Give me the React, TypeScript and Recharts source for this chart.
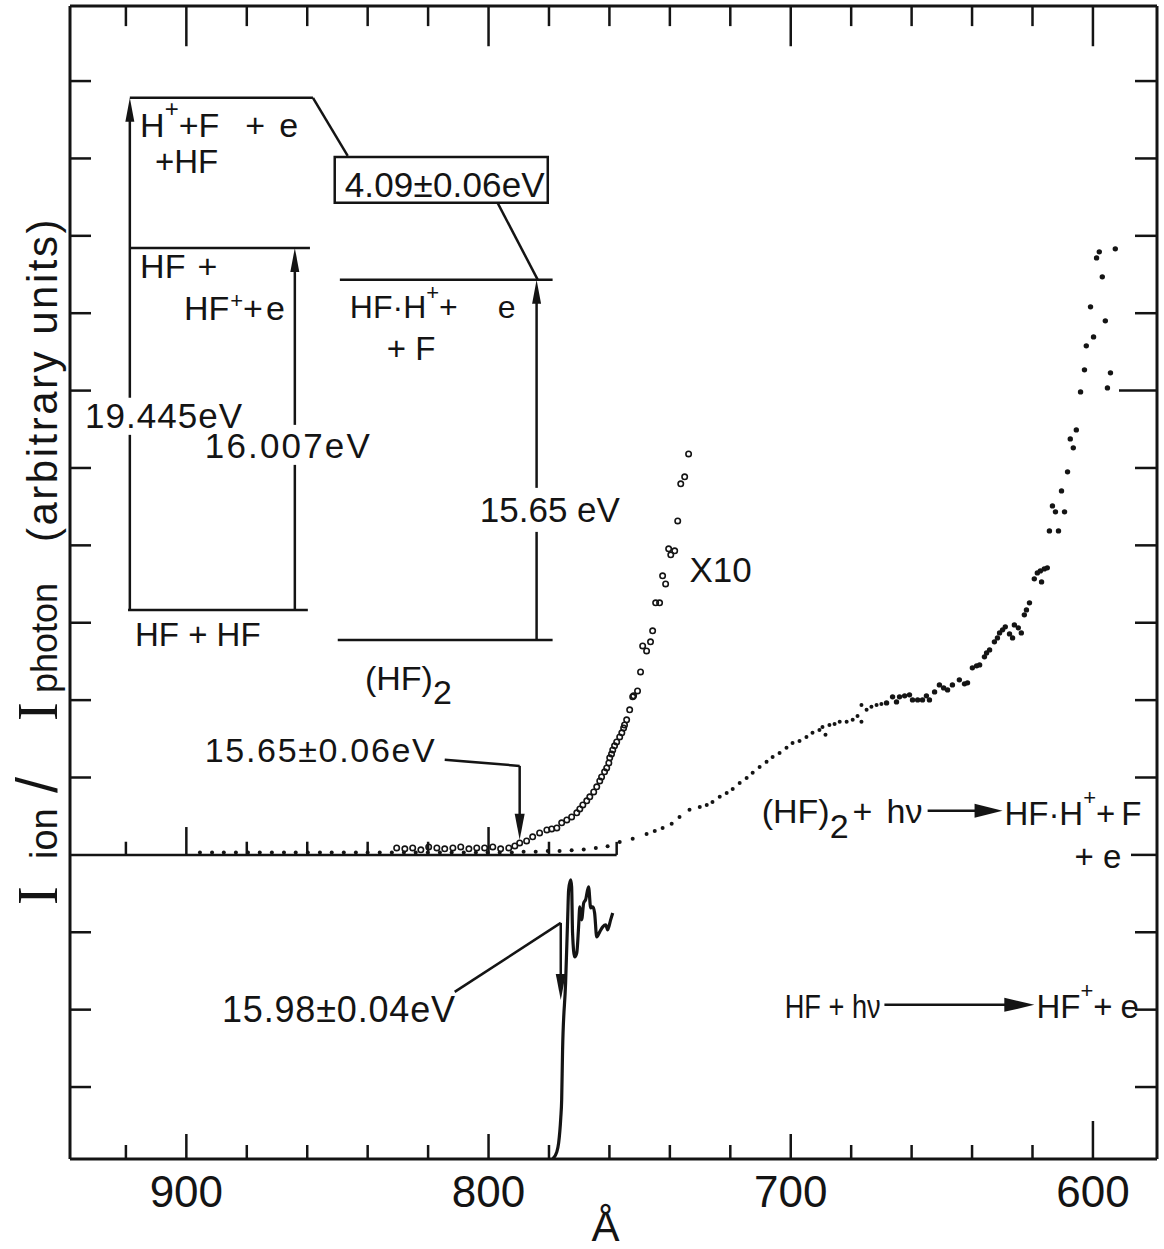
import React from "react";
import {
  ComposedChart,
  Scatter,
  Line,
  XAxis,
  YAxis,
  ReferenceLine,
  ReferenceDot,
  ReferenceArea,
} from "recharts";

const INK = "#141414";
const SANS = "'Liberation Sans', Arial, sans-serif";
const SERIF = "'Liberation Serif', 'Times New Roman', serif";

// axes: wavelength in Å (reversed), signal in tick units
const wlDomain = [578.8, 938.5];
const sigDomain = [-3.93, 10.97];
const wlTicks = [600, 620, 640, 660, 680, 700, 720, 740, 760, 780, 800, 820, 840, 860, 880, 900, 920];
const sigTicks = [-3, -2, -1, 0, 1, 2, 3, 4, 5, 6, 7, 8, 9, 10];
const zeroTicks = [780, 800, 820, 840, 860, 880, 900, 920];

// (HF)2 -> HF·H+ , x10 trace (open circles)
const x10Wl = [
  830.4, 827.7, 825.1, 822.4, 819.8, 817.1, 814.5, 811.8, 809.2, 806.5, 803.9, 801.3, 798.6, 796.0, 793.3, 791.3,
  789.7, 787.4, 785.4, 783.1, 780.7, 779.1, 777.4, 775.8, 774.1, 772.5, 770.8, 769.8, 768.8, 767.5, 766.5, 765.2,
  764.2, 763.2, 762.6, 761.6, 760.9, 760.2, 759.9, 759.3, 758.9, 758.3, 757.6, 756.6, 755.9, 755.3, 755.0, 754.3,
  753.3, 752.3, 752.0, 750.7, 749.7, 749.0, 747.7, 746.4, 745.7, 744.7, 743.4, 742.4, 741.4, 740.4, 739.7, 738.4,
  737.4, 736.4, 735.1, 733.8,
];
const x10Sig = [
  0.09, 0.078, 0.09, 0.065, 0.103, 0.09, 0.078, 0.09, 0.103, 0.078, 0.09, 0.09, 0.103, 0.078, 0.09, 0.116,
  0.155, 0.181, 0.233, 0.284, 0.323, 0.336, 0.349, 0.414, 0.452, 0.491, 0.543, 0.594, 0.646, 0.698, 0.75, 0.814,
  0.879, 0.956, 1.008, 1.073, 1.124, 1.189, 1.254, 1.305, 1.357, 1.409, 1.46, 1.525, 1.577, 1.641, 1.68, 1.745,
  1.874, 2.042, 2.055, 2.119, 2.365, 2.701, 2.636, 2.753, 2.895, 3.257, 3.257, 3.606, 3.502, 3.955, 3.877, 3.929,
  4.316, 4.795, 4.885, 5.182,
];

// (HF)2 -> HF·H+ , x1 trace (small dots)
const dimerWl = [
  895.5, 891.5, 887.6, 883.6, 879.6, 875.7, 871.7, 867.7, 863.8, 859.8, 855.8, 851.9, 847.9, 843.9, 840.0, 836.0,
  832.0, 828.0, 824.1, 820.1, 816.1, 812.2, 808.2, 804.2, 800.3, 796.3, 792.3, 788.4, 784.4, 780.4, 776.5, 772.5,
  768.5, 764.5, 760.6,
  756.6, 752.3, 747.7, 745.0, 742.4, 739.4, 736.8, 733.5, 730.1, 727.8, 725.9, 723.5, 721.2, 719.2, 716.9, 714.6,
  712.6, 710.3, 708.0, 706.0, 703.7, 701.4, 699.4, 697.1, 694.8, 692.8, 690.5, 689.5, 688.5, 687.2, 685.5, 683.8,
  681.5, 679.5, 677.9, 676.6, 676.6, 674.9, 673.3, 671.6, 670.0,
];
const dimerSig = [
  0.03, 0.03, 0.03, 0.03, 0.03, 0.03, 0.03, 0.03, 0.03, 0.03, 0.03, 0.03, 0.03, 0.03, 0.03, 0.03,
  0.03, 0.03, 0.03, 0.03, 0.03, 0.03, 0.03, 0.03, 0.03, 0.03, 0.03, 0.04, 0.04, 0.05, 0.05, 0.06,
  0.07, 0.09, 0.11,
  0.168, 0.207, 0.271, 0.31, 0.349, 0.401, 0.491, 0.582, 0.62, 0.646, 0.685, 0.75, 0.801, 0.853, 0.93, 0.995,
  1.06, 1.137, 1.202, 1.266, 1.318, 1.383, 1.447, 1.473, 1.525, 1.577, 1.615, 1.654, 1.551, 1.68, 1.693, 1.719,
  1.719, 1.745, 1.796, 1.938, 1.719, 1.874, 1.913, 1.938, 1.951,
];

// (HF)2 -> HF·H+ , x1 trace, short-wavelength end (larger dots)
const dimerHiWl = [
  668.3, 666.3, 665.0, 664.0, 662.3, 660.7, 659.7, 658.0, 656.4, 655.1, 654.1, 652.4, 650.8, 649.4, 648.1, 646.5,
  644.2, 642.5, 641.5, 639.9, 638.5, 637.5, 635.9, 635.2, 634.2, 632.6, 631.6, 630.9, 629.9, 629.0, 627.6, 626.6,
  626.0, 624.7, 623.7, 622.7, 622.0, 621.0, 619.4, 618.4, 617.4, 617.0, 616.1, 615.1, 614.4, 613.4, 612.4, 611.4,
  610.4, 609.4, 608.4, 607.5, 606.5, 605.5, 604.1, 602.8, 602.2, 600.8, 599.8, 598.8, 597.9, 596.9, 595.9, 595.2,
  594.2, 592.6,
];
const dimerHiSig = [
  1.964, 2.042, 1.977, 2.042, 2.055, 2.068, 2.003, 2.003, 2.003, 2.055, 2.003, 2.106, 2.197, 2.158, 2.132, 2.197,
  2.262, 2.21, 2.223, 2.417, 2.443, 2.455, 2.559, 2.61, 2.649, 2.753, 2.804, 2.869, 2.908, 2.947, 2.856, 2.804,
  2.972, 2.934, 2.869, 3.102, 3.166, 3.257, 3.567, 3.644, 3.67, 3.528, 3.696, 3.709, 4.187, 4.51, 4.433, 4.187,
  4.704, 4.433, 4.95, 5.376, 5.26, 5.492, 5.983, 6.268, 6.578, 7.082, 6.694, 7.715, 7.793, 7.47, 6.901, 6.035,
  6.229, 7.832,
];

// HF -> HF+ (solid line, lower panel)
const hfWl = [
  778.8, 777.4, 776.8, 776.1, 775.8, 775.5, 774.5, 773.8, 773.5, 772.8, 772.5, 772.2, 771.5, 770.8, 770.2,
  769.8, 769.2, 768.5, 767.9, 766.9, 766.2, 765.5, 764.9, 764.2, 763.2, 762.2, 761.2, 760.6, 759.6, 758.9,
];
const hfSig = [
  -3.929, -3.838, -3.722, -3.399, -3.166, -2.52, -1.654, -0.801, -0.452, -0.323, -0.414, -1.008, -1.318, -1.266, -0.93,
  -0.672, -0.84, -0.62, -0.582, -0.414, -0.685, -0.672, -0.75, -1.06, -0.995, -0.93, -0.905, -0.969, -0.84, -0.75,
];

// energy-level diagram and pointers, in data units [wl, sig]
const plainSegs = [
  [[918.7, 9.783], [858.1, 9.783]],
  [[858.1, 9.783], [846.6, 9.033]],
  [[797.0, 8.426], [783.7, 7.431]],
  [[918.7, 7.844], [859.1, 7.844]],
  [[919.3, 3.166], [859.8, 3.166]],
  [[849.2, 7.431], [778.8, 7.431]],
  [[849.9, 2.778], [778.8, 2.778]],
  [[918.7, 3.166], [918.7, 5.428]],
  [[864.1, 3.166], [864.1, 5.04]],
  [[784.1, 2.778], [784.1, 4.174]],
  [[814.5, 1.228], [789.7, 1.15]],
  [[811.2, -1.77], [776.1, -0.879]],
  [[938.5, 0], [757.6, 0]],
  [[757.6, 0], [757.6, 0.168]],
];
const arrowSegs = [
  { seg: [[918.7, 5.906], [918.7, 9.783]], head: 24, half: 4.5 },
  { seg: [[864.1, 5.557], [864.1, 7.844]], head: 24, half: 4.5 },
  { seg: [[784.1, 4.743], [784.1, 7.431]], head: 24, half: 4.5 },
  { seg: [[789.7, 1.15], [789.7, 0.194]], head: 26, half: 5 },
  { seg: [[776.1, -0.879], [776.1, -1.874]], head: 26, half: 5 },
  { seg: [[654.7, 0.569], [629.9, 0.569]], head: 28, half: 7 },
  { seg: [[669.0, -1.938], [619.4, -1.938]], head: 30, half: 7 },
];

const zip = (xs: number[], ys: number[]) => xs.map((x, i) => ({ x, y: ys[i] }));
const x10Data = zip(x10Wl, x10Sig);
const dimerData = zip(dimerWl, dimerSig);
const dimerHiData = zip(dimerHiWl, dimerHiSig);
const hfData = zip(hfWl, hfSig);

const arrowShape = (head: number, half: number) => (p: any) => {
  const { x1, y1, x2, y2 } = p;
  const len = Math.hypot(x2 - x1, y2 - y1) || 1;
  const ux = (x2 - x1) / len;
  const uy = (y2 - y1) / len;
  const bx = x2 - ux * head;
  const by = y2 - uy * head;
  const pts = `${x2},${y2} ${bx - uy * half},${by + ux * half} ${bx + uy * half},${by - ux * half}`;
  return (
    <g>
      <line x1={x1} y1={y1} x2={bx + ux * 2} y2={by + uy * 2} stroke={INK} strokeWidth={2.5} />
      <polygon points={pts} fill={INK} />
    </g>
  );
};

const BottomTick = (p: any) => {
  const v = p.payload.value;
  const major = v % 100 === 0;
  const len = v === 600 ? 38 : major ? 25 : 14;
  return (
    <g>
      <line x1={p.x} x2={p.x} y1={p.y} y2={p.y - len} stroke={INK} strokeWidth={2.5} />
      {major && (
        <text x={p.x} y={p.y + 48} textAnchor="middle" fontSize={44} fontFamily={SANS} fill={INK}>
          {v}
        </text>
      )}
    </g>
  );
};

const LeftTick = (p: any) =>
  p.payload.value === 0 ? <g /> : <line x1={p.x} x2={p.x + 21} y1={p.y} y2={p.y} stroke={INK} strokeWidth={2.5} />;

const RightTick = (p: any) => {
  const v = p.payload.value;
  const len = v === 6 ? 38 : v === 0 ? 26 : 22;
  return <line x1={p.x} x2={p.x - len} y1={p.y} y2={p.y} stroke={INK} strokeWidth={2.5} />;
};

const yLabel = (props: any) => {
  const vb = props.viewBox || { x: 0, y: 6 };
  const bx = vb.x + 57;
  const by = vb.y + 899;
  return (
    <text transform={`translate(${bx}, ${by}) rotate(-90)`} fill={INK} fontFamily={SANS}>
      <tspan x={0} fontFamily={SERIF} fontSize={56}>I</tspan>
      <tspan x={46} fontSize={38}>ion</tspan>
      <tspan x={112} fontSize={58}>/</tspan>
      <tspan x={184} fontFamily={SERIF} fontSize={56}>I</tspan>
      <tspan x={212} fontSize={36}>photon</tspan>
      <tspan x={363} fontSize={42} letterSpacing={2.5}>(arbitrary units)</tspan>
    </text>
  );
};

const note = (key: string, x: number, y: number, content: React.ReactNode, size = 33, extra: any = {}) => (
  <ReferenceDot
    key={key}
    x={x}
    y={y}
    r={0}
    ifOverflow="visible"
    shape={(p: any) => (
      <text x={p.cx} y={p.cy} fontSize={size} fontFamily={SANS} fill={INK} {...extra}>
        {content}
      </text>
    )}
  />
);

const sup = (s: string, d = 20, size = 24) => [
  <tspan key="a" dy={-d} fontSize={size}>{s}</tspan>,
];

export default function App() {
  const top = sigDomain[1];
  return (
    <div style={{ position: "absolute", left: 0, top: 0, width: 1164, height: 1249, background: "#fff" }}>
      <ComposedChart width={1164} height={1249} margin={{ top: 5, right: 6, bottom: 0, left: 0 }}>
        <XAxis
          type="number"
          dataKey="x"
          domain={wlDomain}
          reversed
          allowDataOverflow
          ticks={wlTicks}
          interval={0}
          tickSize={0}
          tickMargin={0}
          tickLine={false}
          tick={BottomTick}
          height={90}
          axisLine={{ stroke: INK, strokeWidth: 3 }}
          label={{ value: "Å", position: "insideBottom", offset: 8, dx: -8, fontSize: 42, fill: INK, fontFamily: SANS }}
        />
        <XAxis
          xAxisId="top"
          orientation="top"
          type="number"
          domain={wlDomain}
          reversed
          allowDataOverflow
          tick={false}
          tickLine={false}
          height={1}
          axisLine={{ stroke: INK, strokeWidth: 3 }}
        />
        <YAxis
          type="number"
          domain={sigDomain}
          allowDataOverflow
          ticks={sigTicks}
          interval={0}
          tickSize={0}
          tickMargin={0}
          tickLine={false}
          tick={LeftTick}
          width={70}
          axisLine={{ stroke: INK, strokeWidth: 3 }}
          label={yLabel}
        />
        <YAxis
          yAxisId="right"
          orientation="right"
          type="number"
          domain={sigDomain}
          allowDataOverflow
          ticks={sigTicks}
          interval={0}
          tickSize={0}
          tickMargin={0}
          tickLine={false}
          tick={RightTick}
          width={1}
          axisLine={{ stroke: INK, strokeWidth: 3 }}
        />

        {/* inward ticks hanging from the top frame */}
        {wlTicks.map((t) => (
          <ReferenceLine
            key={`tt${t}`}
            ifOverflow="visible"
            segment={[{ x: t, y: top }, { x: t, y: top - (t % 100 === 0 ? 0.52 : 0.26) }]}
            stroke={INK}
            strokeWidth={2.5}
          />
        ))}
        {plainSegs.map((s, i) => (
          <ReferenceLine
            key={`seg${i}`}
            ifOverflow="visible"
            segment={[{ x: s[0][0], y: s[0][1] }, { x: s[1][0], y: s[1][1] }]}
            stroke={INK}
            strokeWidth={2.5}
          />
        ))}
        {zeroTicks.map((t) => (
          <ReferenceLine
            key={`zt${t}`}
            ifOverflow="visible"
            segment={[{ x: t, y: 0 }, { x: t, y: t % 100 === 0 ? 0.36 : 0.17 }]}
            stroke={INK}
            strokeWidth={2.5}
          />
        ))}
        {arrowSegs.map((a, i) => (
          <ReferenceLine
            key={`arr${i}`}
            ifOverflow="visible"
            segment={[{ x: a.seg[0][0], y: a.seg[0][1] }, { x: a.seg[1][0], y: a.seg[1][1] }]}
            shape={arrowShape(a.head, a.half)}
          />
        ))}
        <ReferenceArea
          x1={850.9}
          x2={780.4}
          y1={8.426}
          y2={9.02}
          ifOverflow="visible"
          fill="none"
          fillOpacity={0}
          stroke={INK}
          strokeWidth={2.5}
        />

        <Scatter data={x10Data} dataKey="y" isAnimationActive={false}
          shape={(p: any) => <circle cx={p.cx} cy={p.cy} r={2.7} fill="none" stroke={INK} strokeWidth={1.6} />} />
        <Scatter data={dimerData} dataKey="y" isAnimationActive={false}
          shape={(p: any) => <circle cx={p.cx} cy={p.cy} r={2} fill={INK} />} />
        <Scatter data={dimerHiData} dataKey="y" isAnimationActive={false}
          shape={(p: any) => <circle cx={p.cx} cy={p.cy} r={2.7} fill={INK} />} />
        <Line data={hfData} dataKey="y" type="monotone" stroke={INK} strokeWidth={3.2} dot={false} isAnimationActive={false} />

        {note("h1", 915.3, 9.279, <>H{sup("+")}<tspan dy={20}>+F</tspan><tspan dx={26}>+</tspan><tspan dx={14}>e</tspan></>, 34)}
        {note("h2", 910.4, 8.814, "+HF")}
        {note("h3", 915.3, 7.457, <>HF<tspan dx={12}>+</tspan></>, 34)}
        {note("h4", 900.8, 6.914, <>HF<tspan dx={1} dy={-12} fontSize={22}>+</tspan><tspan dy={12}>+</tspan><tspan dx={3}>e</tspan></>, 34)}
        {note("box", 847.6, 8.504, "4.09±0.06eV", 35, { textLength: 200 })}
        {note("h5", 845.9, 6.94, <>HF·H{sup("+", 18, 22)}<tspan dy={18}>+</tspan><tspan dx={40}>e</tspan></>, 32)}
        {note("h6", 833.7, 6.397, "+ F", 33)}
        {note("e1", 933.5, 5.518, "19.445eV", 35, { textLength: 157 })}
        {note("e2", 893.9, 5.131, "16.007eV", 35, { textLength: 165 })}
        {note("e3", 802.9, 4.303, "15.65 eV", 35)}
        {note("l1", 917.0, 2.701, "HF + HF", 33)}
        {note("l2", 840.9, 2.132, <>(HF)<tspan dy={14}>2</tspan></>, 34)}
        {note("x10", 733.5, 3.528, "X10", 35)}
        {note("p1", 893.9, 1.202, "15.65±0.06eV", 34, { textLength: 230 })}
        {note("p2", 888.2, -2.158, "15.98±0.04eV", 36, { textLength: 233 })}
        {note("r1", 709.6, 0.414, <>(HF)<tspan dy={15}>2</tspan><tspan dy={-15} dx={4}>+</tspan><tspan dx={14}>hν</tspan></>, 34)}
        {note("r2", 629.3, 0.388, <>HF·H{sup("+", 20, 22)}<tspan dy={20}>+</tspan><tspan dx={6}>F</tspan></>, 33)}
        {note("r3", 606.1, -0.168, "+ e", 33)}
        {note("r4", 702.0, -2.106, "HF + hν", 33, { textLength: 96, lengthAdjust: "spacingAndGlyphs" })}
        {note("r5", 618.7, -2.106, <>HF{sup("+", 20, 22)}<tspan dy={20}>+</tspan><tspan dx={8}>e</tspan></>, 33)}
      </ComposedChart>
    </div>
  );
}
